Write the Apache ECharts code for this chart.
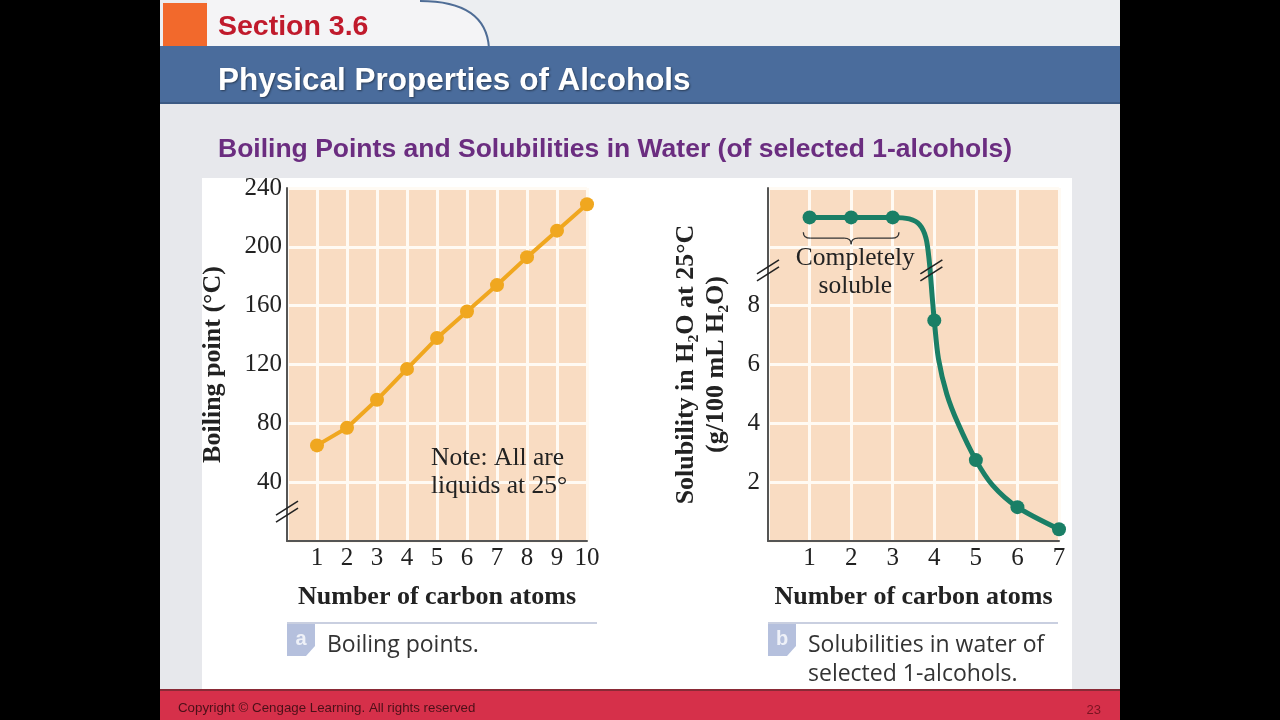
<!DOCTYPE html>
<html>
<head>
<meta charset="utf-8">
<script src="https://cdn.jsdelivr.net/npm/echarts@6/dist/echarts.min.js"></script>
<style>
html,body{margin:0;padding:0;background:#000;}
#c{width:1280px;height:720px;}
</style>
</head>
<body>
<div id="c"></div>
<script>
// ---- Data ----
const carbonAtomsA = [1, 2, 3, 4, 5, 6, 7, 8, 9, 10];
const boilingPoints = [65, 77, 96, 117, 138, 156, 174, 193, 211, 229];
const boilingTicks = [40, 80, 120, 160, 200, 240];

const carbonAtomsB = [1, 2, 3, 4, 5, 6, 7];
const solubility = [11.0, 11.0, 11.0, 7.5, 2.75, 1.15, 0.4];
const solubilityTicks = [2, 4, 6, 8];
// curve (x, y)
const solCurveX = [1, 2, 3, 3.4, 3.65, 3.8, 3.88, 3.95, 4, 4.1, 4.3, 4.57, 5, 5.4, 6, 7];
const solCurveY = [11.0, 11.0, 11.0, 10.95, 10.75, 10.3, 9.5, 8.3, 7.5, 6.2, 5.0, 4.0, 2.75, 1.9, 1.15, 0.4];

const SERIF = '"Liberation Serif","Times New Roman",serif';
const SANS = '"Liberation Sans",Arial,sans-serif';
const ORANGE = '#f0a71f';
const GREEN = '#1a7f66';
const PEACH = '#f9dcc2';
const FS = 25;

const chart = echarts.init(document.getElementById('c'));

function xAxisCfg(grid, max, ticks) {
  return {
    type: 'value', gridIndex: grid, min: 0, max: max, interval: 1,
    axisLine: {show: true, onZero: false, lineStyle: {color: '#555', width: 2}},
    axisTick: {show: false},
    splitLine: {show: true, lineStyle: {color: '#fffaf3', width: 3}},
    axisLabel: {
      margin: 5, color: '#222', fontFamily: SERIF, fontSize: FS,
      formatter: v => (ticks.indexOf(v) >= 0 ? String(v) : '')
    },
    name: 'Number of carbon atoms', nameLocation: 'middle', nameGap: 43,
    nameTextStyle: {fontFamily: SERIF, fontWeight: 'bold', fontSize: 26, color: '#222'}
  };
}

const yA = {
  type: 'value', gridIndex: 0, min: 0, max: 240, interval: 40,
  axisLine: {show: true, lineStyle: {color: '#555', width: 2}},
  axisTick: {show: false},
  splitLine: {show: true, lineStyle: {color: '#fffaf3', width: 3}},
  axisLabel: {margin: 5, color: '#222', fontFamily: SERIF, fontSize: FS, padding: [7, 0, 0, 0],
    formatter: v => (boilingTicks.indexOf(v) >= 0 ? String(v) : '')},
  name: 'Boiling point (°C)', nameLocation: 'middle', nameGap: 61,
  nameTextStyle: {fontFamily: SERIF, fontWeight: 'bold', fontSize: 26, color: '#222'}
};
const yB = {
  type: 'value', gridIndex: 1, min: 0, max: 12, interval: 2,
  axisLine: {show: true, lineStyle: {color: '#555', width: 2}},
  axisTick: {show: false},
  splitLine: {show: true, lineStyle: {color: '#fffaf3', width: 3}},
  axisLabel: {margin: 8, color: '#222', fontFamily: SERIF, fontSize: FS, padding: [7, 0, 0, 0],
    formatter: v => (solubilityTicks.indexOf(v) >= 0 ? String(v) : '')},
  name: 'Solubility in H₂O at 25°C\n(g/100 mL H₂O)', nameLocation: 'middle', nameGap: 37,
  nameTextStyle: {fontFamily: SERIF, fontWeight: 'bold', fontSize: 26, color: '#222', lineHeight: 30}
};

chart.setOption({
  animation: false,
  backgroundColor: '#000',
  grid: [
    {left: 287, top: 188, width: 300, height: 353, show: true, backgroundColor: PEACH, borderWidth: 0},
    {left: 768, top: 188, width: 291, height: 353, show: true, backgroundColor: PEACH, borderWidth: 0}
  ],
  xAxis: [xAxisCfg(0, 10, carbonAtomsA), xAxisCfg(1, 7, carbonAtomsB)],
  yAxis: [yA, yB],
  series: [
    {
      type: 'line', xAxisIndex: 0, yAxisIndex: 0, z: 5,
      data: carbonAtomsA.map((x, i) => [x, boilingPoints[i]]),
      lineStyle: {color: ORANGE, width: 4},
      itemStyle: {color: ORANGE, opacity: 1},
      symbol: 'circle', symbolSize: 14
    },
    {
      type: 'line', xAxisIndex: 1, yAxisIndex: 1, z: 4, smooth: 0.3,
      data: solCurveX.map((x, i) => [x, solCurveY[i]]),
      lineStyle: {color: GREEN, width: 5},
      symbol: 'none'
    },
    {
      type: 'scatter', xAxisIndex: 1, yAxisIndex: 1, z: 6,
      data: carbonAtomsB.map((x, i) => [x, solubility[i]]),
      itemStyle: {color: GREEN, opacity: 1},
      symbol: 'circle', symbolSize: 14
    }
  ]
});

// ---- decorations ----
function breakMark(cx, cy) {
  const out = [];
  [-3.5, 3.5].forEach(d => {
    out.push({type: 'line', z: 10,
      shape: {x1: cx - 11, y1: cy + 7 + d, x2: cx + 11, y2: cy - 7 + d},
      style: {stroke: '#222', lineWidth: 1.6}});
  });
  return out;
}
const pA = chart.convertToPixel({gridIndex: 0}, [0, 20]);
const pB = chart.convertToPixel({gridIndex: 1}, [0, 9.2]);
const pC = chart.convertToPixel({gridIndex: 1}, [3.93, 9.2]);
const bL = chart.convertToPixel({gridIndex: 1}, [0.85, 10.5]);
const bR = chart.convertToPixel({gridIndex: 1}, [3.15, 10.5]);
const bMid = chart.convertToPixel({gridIndex: 1}, [2, 10.5]);
const noteP = chart.convertToPixel({gridIndex: 0}, [4.8, 47]);
const compP = chart.convertToPixel({gridIndex: 1}, [2.1, 9.12]);

function brace(L, R, C, T) {
  const m = T + 6, b = T + 12, r = 7;
  const st = {stroke: '#333', lineWidth: 1.3, fill: null};
  return [
    {type: 'bezierCurve', z: 10, shape: {x1: L, y1: T, x2: L + r, y2: m, cpx1: L, cpy1: m}, style: st},
    {type: 'line', z: 10, shape: {x1: L + r, y1: m, x2: C - r, y2: m}, style: st},
    {type: 'bezierCurve', z: 10, shape: {x1: C - r, y1: m, x2: C, y2: b, cpx1: C, cpy1: m}, style: st},
    {type: 'bezierCurve', z: 10, shape: {x1: C, y1: b, x2: C + r, y2: m, cpx1: C, cpy1: m}, style: st},
    {type: 'line', z: 10, shape: {x1: C + r, y1: m, x2: R - r, y2: m}, style: st},
    {type: 'bezierCurve', z: 10, shape: {x1: R - r, y1: m, x2: R, y2: T, cpx1: R, cpy1: m}, style: st}
  ];
}

function badge(x, y, letter) {
  return [
    {type: 'polygon', z: 1, shape: {points: [[x, y], [x + 28, y], [x + 28, y + 22], [x + 19, y + 32], [x, y + 32]]},
      style: {fill: '#b5c0dd'}},
    {type: 'text', z: 2, style: {x: x + 14, y: y + 15, text: letter, fill: '#eef1f8', font: 'bold 20px ' + SANS,
      textAlign: 'center', textVerticalAlign: 'middle'}}
  ];
}

// tab shape with curved right edge
const tabPts = [[207, 0], [420, 0]];
for (let i = 1; i <= 12; i++) {
  const t = i / 12;
  const x = (1 - t) * (1 - t) * 420 + 2 * (1 - t) * t * 486 + t * t * 489;
  const y = t * t * 48;
  tabPts.push([x, y]);
}
tabPts.push([207, 48]);

const CAP = '23px "Open Sans",' + SANS;

const graphics = [
  {type: 'rect', z: -100, silent: true, shape: {x: 160, y: 0, width: 960, height: 720}, style: {fill: '#e7e8ec'}},
  {type: 'rect', z: -99, shape: {x: 160, y: 0, width: 960, height: 48}, style: {fill: '#eceef1'}},
  {type: 'polygon', z: -98, shape: {points: tabPts}, style: {fill: '#f4f4f6'}},
  {type: 'bezierCurve', z: -97, shape: {x1: 420, y1: 1, x2: 489, y2: 48, cpx1: 486, cpy1: 1}, style: {stroke: '#4f6d96', lineWidth: 2, fill: null}},
  {type: 'rect', z: -96, shape: {x: 163, y: 3, width: 44, height: 43}, style: {fill: '#f2692c'}},
  {type: 'rect', z: -96, shape: {x: 160, y: 46, width: 960, height: 58}, style: {fill: '#4a6c9c'}},
  {type: 'rect', z: -96, shape: {x: 160, y: 102, width: 960, height: 2}, style: {fill: '#3c5a84'}},
  {type: 'text', z: -95, style: {x: 218, y: 27, text: 'Section 3.6', fill: '#c01a2c', font: 'bold 28.5px ' + SANS, textVerticalAlign: 'middle'}},
  {type: 'text', z: -95, style: {x: 218, y: 81, text: 'Physical Properties of Alcohols', fill: '#ffffff', font: 'bold 31.5px ' + SANS,
    textVerticalAlign: 'middle', textShadowColor: 'rgba(0,0,0,0.45)', textShadowOffsetX: 1, textShadowOffsetY: 1, textShadowBlur: 2}},
  {type: 'text', z: -95, style: {x: 218, y: 150, text: 'Boiling Points and Solubilities in Water (of selected 1-alcohols)', fill: '#6b2d80',
    font: 'bold 26.5px ' + SANS, textVerticalAlign: 'middle'}},
  {type: 'rect', z: -95, shape: {x: 202, y: 178, width: 870, height: 512}, style: {fill: '#ffffff'}},
  {type: 'rect', z: 20, shape: {x: 160, y: 690, width: 960, height: 30}, style: {fill: '#d6304a'}},
  {type: 'rect', z: 20, shape: {x: 160, y: 689, width: 960, height: 2}, style: {fill: '#8a2a36'}},
  {type: 'text', z: 21, style: {x: 178, y: 708, text: 'Copyright © Cengage Learning. All rights reserved', fill: '#4a1018',
    font: '13.3px ' + SANS, textVerticalAlign: 'middle'}},
  {type: 'text', z: 21, style: {x: 1101, y: 710, text: '23', fill: '#7a1422', font: '13px ' + SANS, textAlign: 'right', textVerticalAlign: 'middle'}},
  {type: 'rect', z: 1, shape: {x: 287, y: 622, width: 310, height: 2}, style: {fill: '#c9cfe0'}},
  {type: 'rect', z: 1, shape: {x: 768, y: 622, width: 290, height: 2}, style: {fill: '#c9cfe0'}},
  ...badge(287, 624, 'a'),
  ...badge(768, 624, 'b'),
  {type: 'text', z: 2, style: {x: 327, y: 645, text: 'Boiling points.', fill: '#333', font: CAP, textVerticalAlign: 'middle'}},
  {type: 'text', z: 2, style: {x: 808, y: 645, text: 'Solubilities in water of', fill: '#333', font: CAP, textVerticalAlign: 'middle'}},
  {type: 'text', z: 2, style: {x: 808, y: 674, text: 'selected 1-alcohols.', fill: '#333', font: CAP, textVerticalAlign: 'middle'}},
  {type: 'text', z: 10, style: {x: noteP[0], y: noteP[1], text: 'Note: All are\nliquids at 25°', fill: '#222',
    font: '25.5px ' + SERIF, lineHeight: 28, textVerticalAlign: 'middle'}},
  {type: 'text', z: 10, style: {x: compP[0], y: compP[1], text: 'Completely\nsoluble', fill: '#222',
    font: '25.5px ' + SERIF, lineHeight: 28, textAlign: 'center', textVerticalAlign: 'middle'}},
  ...brace(bL[0], bR[0], bMid[0], bL[1]),
  ...breakMark(pA[0], pA[1]),
  ...breakMark(pB[0], pB[1]),
  ...breakMark(pC[0], pC[1]),
  {type: 'rect', z: 30, shape: {x: 0, y: 0, width: 160, height: 720}, style: {fill: '#000'}},
  {type: 'rect', z: 30, shape: {x: 1120, y: 0, width: 160, height: 720}, style: {fill: '#000'}}
];

chart.setOption({graphic: graphics});
</script>
</body>
</html>
